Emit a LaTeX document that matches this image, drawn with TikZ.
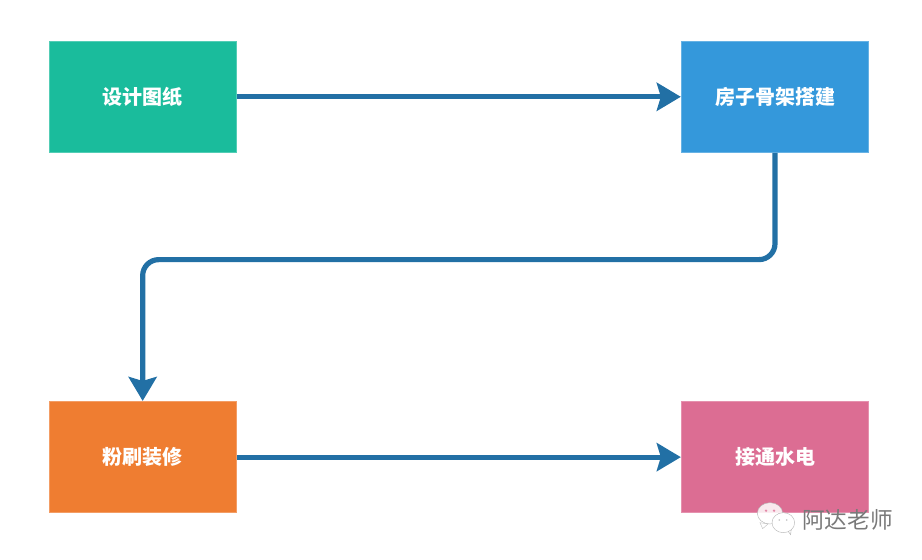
\documentclass[tikz,border=0pt]{standalone}
\usepackage{fontspec}
\setmainfont{Noto Sans CJK SC}
\usepackage{xcolor}
\usepackage{tikz}
\usetikzlibrary{arrows.meta, positioning, shapes.geometric}

\definecolor{designgreen}{HTML}{1ABC9C}
\definecolor{frameblue}{HTML}{3498DB}
\definecolor{paintorange}{HTML}{EF7D31}
\definecolor{wirepink}{HTML}{DC6D93}
\definecolor{flowblue}{HTML}{2270A5}

\begin{document}
\begin{tikzpicture}[
        node distance=186pt and 333pt,
        stage/.style={rectangle, minimum width=140.5pt, minimum height=83.5pt, inner sep=0pt, line width=.75pt, text=white, font=\bfseries\fontsize{15pt}{18pt}\selectfont},
        design/.style={stage, fill=designgreen, draw=designgreen!75!white},
        frame/.style={stage, fill=frameblue, draw=frameblue!75!white},
        paint/.style={stage, fill=paintorange, draw=paintorange!75!white},
        wire/.style={stage, fill=wirepink, draw=wirepink!75!white},
        flow/.style={-{Stealth[length=18pt, width=21pt, inset=3pt]}, line width=3.9pt, draw=flowblue},
        bubble/.style={ellipse, draw=gray!60, line width=.3pt, inner sep=0pt},
        bubbleeye/.style={circle, fill=wirepink!80, inner sep=0pt, minimum size=2pt}
    ]
    \useasboundingbox (0,0) rectangle (691.5pt,-420pt);

    % Stages
    \node[design] (Design) at (107pt,-72.6pt) {设计图纸};
    \node[frame, right=of Design] (Frame) {房子骨架搭建};
    \node[paint, below=of Design] (Paint) {粉刷装修};
    \node[wire, right=of Paint] (Wire) {接通水电};

    % Flow
    \coordinate[below=80pt of Frame.south] (TurnA);
    \coordinate (TurnB) at (Paint.north |- TurnA);

    \draw[flow] (Design) -- (Frame);
    \draw[flow, rounded corners=12pt] (Frame) -- (TurnA) -- (TurnB) -- (Paint);
    \draw[flow] (Paint) -- (Wire);

    % Watermark
    \fill[white, opacity=.85, draw=gray!60, line width=.3pt] (570pt,-392pt) -- (572pt,-396.5pt) -- (576pt,-393pt) -- cycle;
    \node[bubble, fill=white, fill opacity=.85, minimum width=19pt, minimum height=16pt] (BubbleA) at (577.5pt,-385pt) {};
    \fill[white, draw=gray!60, line width=.3pt] (590pt,-397pt) -- (593pt,-401pt) -- (593.5pt,-396pt) -- cycle;
    \node[bubble, fill=white, minimum width=17pt, minimum height=15pt] (BubbleB) at (587.5pt,-392pt) {};
    \node[bubbleeye] (EyeA) at (574.5pt,-383pt) {};
    \node[bubbleeye] (EyeB) at (580.5pt,-383pt) {};
    \node[bubbleeye, fill=gray!50, minimum size=1.3pt] (EyeC) at (584.5pt,-390pt) {};
    \node[bubbleeye, fill=gray!50, minimum size=1.3pt] (EyeD) at (590pt,-390pt) {};
    \node[text=gray!95!black, font=\fontsize{17pt}{18pt}\selectfont, inner sep=0pt] (Mark) at (635.5pt,-390pt) {阿达老师};

\end{tikzpicture}
\end{document}
